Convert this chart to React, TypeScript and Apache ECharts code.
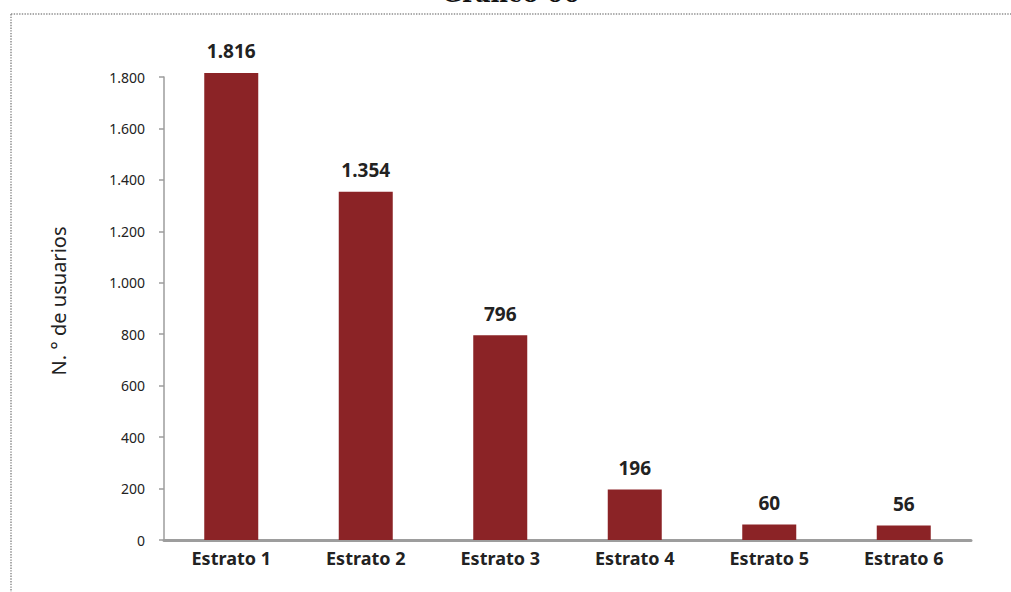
import React, { useEffect, useRef } from "react";
import * as echarts from "echarts";

const categories = ["Estrato 1", "Estrato 2", "Estrato 3", "Estrato 4", "Estrato 5", "Estrato 6"];
const usuarios = [1816, 1354, 796, 196, 60, 56];
const yTicks = { min: 0, max: 1800, interval: 200 };
const titleText = "Gráfico 00";
const yName = "N. ° de usuarios";

const fmt = (v: number) => {
  const s = String(Math.round(v));
  return s.replace(/\B(?=(\d{3})+(?!\d))/g, ".");
};

export default function App() {
  const ref = useRef<HTMLDivElement>(null);
  useEffect(() => {
    if (!ref.current) return;
    const chart = echarts.init(ref.current, null, { renderer: "svg" });
    const font = "'Noto Sans', sans-serif";
    chart.setOption({
      animation: false,
      backgroundColor: "#ffffff",
      textStyle: { fontFamily: font },
      grid: { left: 164, right: 40, top: 77, bottom: 52, containLabel: false },
      graphic: [
        {
          type: "line",
          shape: { x1: 11, y1: 14, x2: 1011, y2: 14 },
          style: { stroke: "#8f8f8f", lineWidth: 1.5, lineDash: [1.4, 1.3] },
          silent: true,
        },
        {
          type: "line",
          shape: { x1: 11, y1: 14, x2: 11, y2: 592 },
          style: { stroke: "#8f8f8f", lineWidth: 1.5, lineDash: [1.4, 1.3] },
          silent: true,
        },
        {
          type: "text",
          x: 511,
          y: 5,
          style: {
            text: titleText,
            fontFamily: "'DejaVu Serif', serif",
            fontWeight: "bold",
            fontSize: 24,
            fill: "#111",
            align: "center",
            verticalAlign: "bottom",
          },
        },
        {
          type: "text",
          x: 58,
          y: 301,
          rotation: Math.PI / 2,
          style: {
            text: yName,
            fontFamily: font,
            fontSize: 20,
            fill: "#222",
            align: "center",
            verticalAlign: "middle",
          },
        },
      ],
      xAxis: {
        type: "category",
        data: categories,
        axisLine: { show: true, lineStyle: { color: "#9d9d9d", width: 3 } },
        axisTick: { show: false },
        axisLabel: {
          margin: 9,
          fontFamily: font,
          fontWeight: "bold",
          fontSize: 18,
          color: "#222",
        },
      },
      yAxis: {
        type: "value",
        min: yTicks.min,
        max: yTicks.max,
        interval: yTicks.interval,
        splitLine: { show: false },
        axisLine: { show: true, lineStyle: { color: "#9d9d9d", width: 1.5 } },
        axisTick: { show: true, length: 5, lineStyle: { color: "#9d9d9d", width: 1.5 } },
        axisLabel: {
          margin: 19,
          fontFamily: font,
          fontSize: 14,
          color: "#222",
          formatter: (v: number) => fmt(v),
        },
      },
      series: [
        {
          type: "bar",
          data: usuarios,
          barWidth: 54,
          clip: false,
          itemStyle: { color: "#8b2326" },
          label: {
            show: true,
            position: "top",
            distance: 12,
            fontFamily: font,
            fontWeight: "bold",
            fontSize: 19,
            color: "#222",
            formatter: (p: any) => fmt(p.value),
          },
        },
      ],
    });
    return () => chart.dispose();
  }, []);
  return (
    <div
      ref={ref}
      style={{ position: "absolute", left: 0, top: 0, width: 1011, height: 592 }}
    />
  );
}
